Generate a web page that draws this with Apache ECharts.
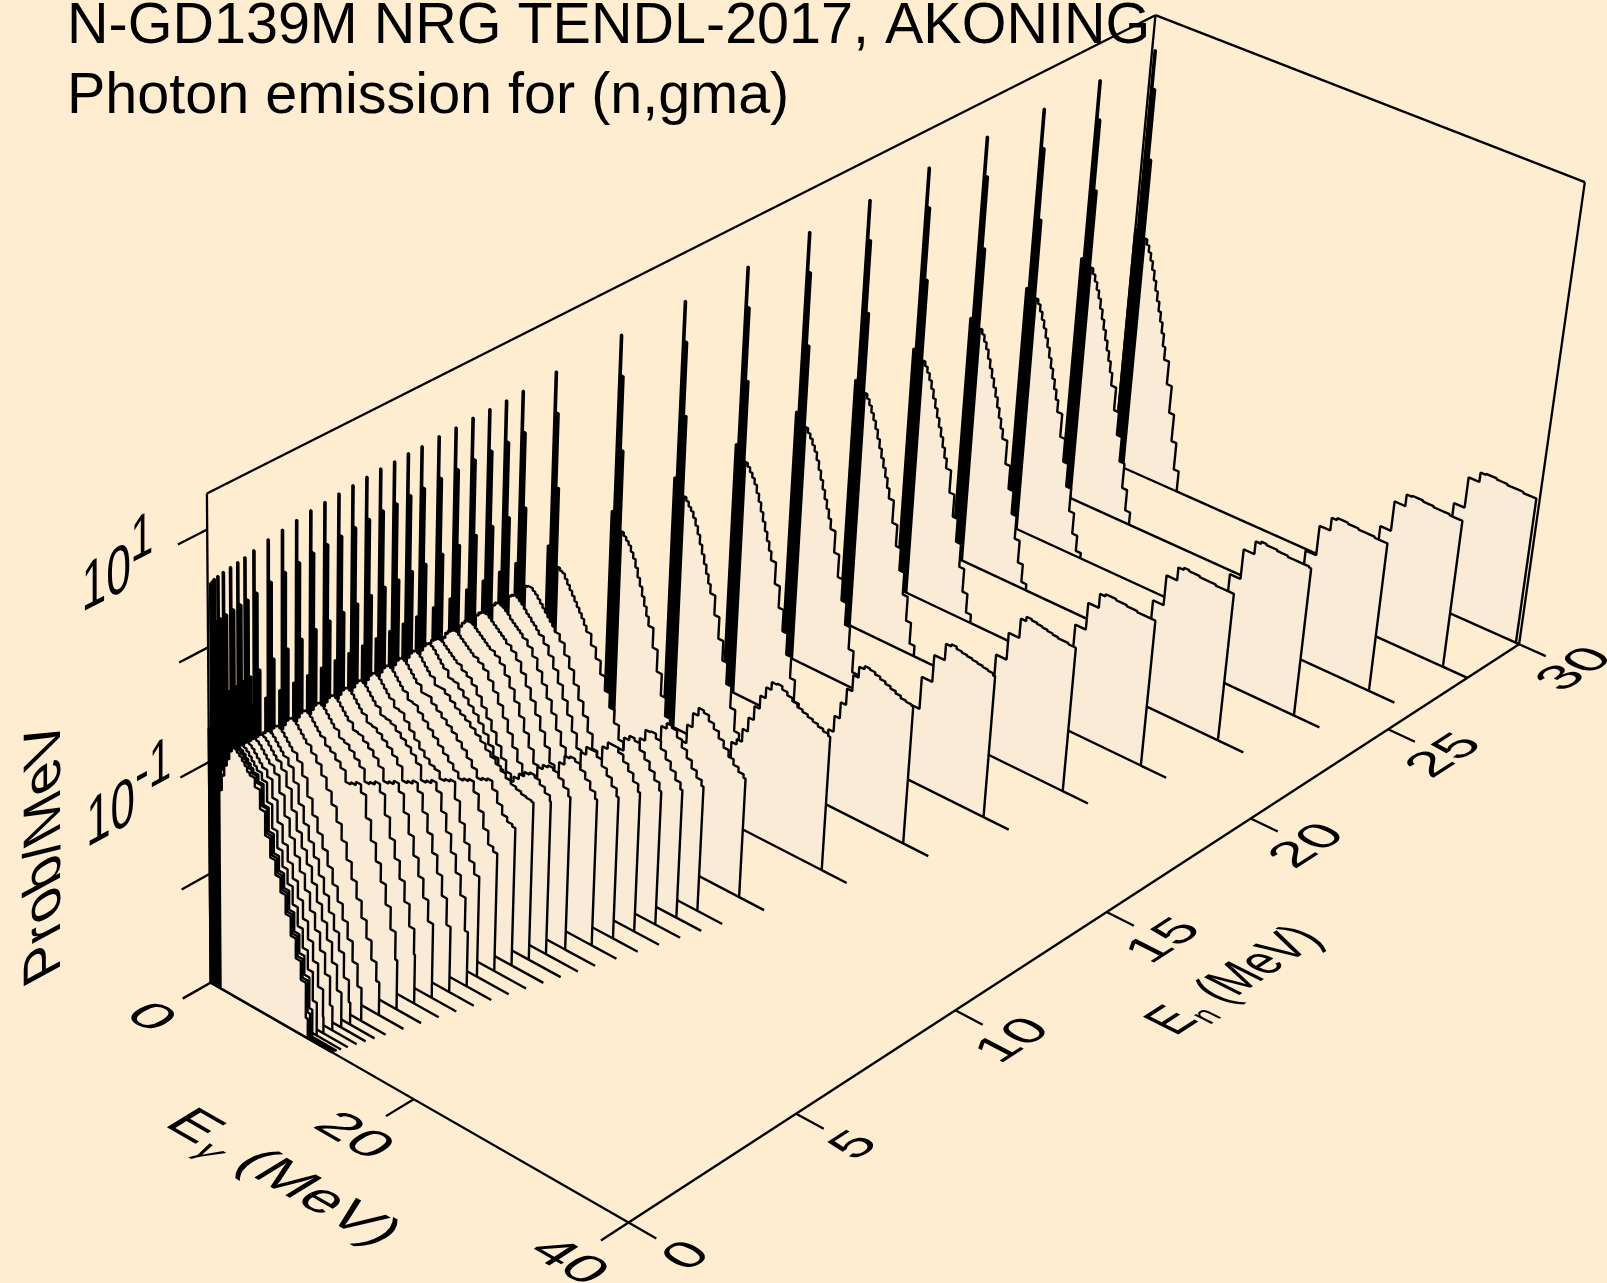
<!DOCTYPE html>
<html><head><meta charset="utf-8">
<style>html,body{margin:0;padding:0;background:#FFEDD1}#c{width:1607px;height:1283px}</style>
<script src="https://cdn.jsdelivr.net/npm/echarts@6/dist/echarts.min.js"></script>
</head><body><div id="c"></div>
<script>
// ---------- values ----------
const titleLines = ['N-GD139M NRG TENDL-2017, AKONING', 'Photon emission for (n,gma)'];
const egTicks = [0, 20, 40];
const enTicks = [0, 5, 10, 15, 20, 25, 30];
const probTicks = [0.001, 0.01, 0.1, 1, 10];
const probLabels = [{p: 10, exp: '1'}, {p: 0.1, exp: '-1'}];
const egRange = [0, 40];
const enRange = [0, 30];
const probRange = [0.001, 20];

const incidentEnergies = [0,0.05,0.1,0.2,0.35,0.55,0.75,0.95,1.2,1.6,2,2.4,2.8,3.2,3.6,4,4.4,4.8,5.2,5.6,6,6.5,7,7.5,8,8.5,9,10,12,14,16,18,20,22,24,26,28,30];
const spikeTops = [0.56,0.57,0.58,0.59,0.6,0.61,0.62,0.63,0.65,0.68,0.7,0.72,0.74,0.75,0.76,0.77,0.78,0.79,0.79,0.8,0.8,0.81,0.81,0.82,0.82,0.82,0.83,0.85,0.88,0.89,0.91,0.94,0.95,0.97,0.98,0.97,0.97,0.99];
const spikeBins = [0, 0.12, 0.24, 0.36, 0.44, 0.64, 0.76, 0.9, 1];
const shoulderLevel = -0.7;
const humpFirstBin = 2;
const humpEdges = [0.6,0.8,1,1.25,1.5,1.75,2,2.25,2.5,2.75,3,3.25,3.5,3.75,4,4.5,5,5.5,6,6.5,7,7.5,8,8.5,9,9.5,10,10.5,11,11.5,12,12.5,13,13.5,14,14.5,15];
const frontCrest = [-1.2,-1.1,-1.02,-0.96,-0.9,-0.85,-0.8,-0.77,-0.76,-0.77,-0.79,-0.82,-0.85,-0.88,-0.91,-0.97];
const humpLevels = [
 [-3,-0.8,-1.19,-1.05,-0.95,-0.88,-0.8,-0.76,-0.76,-0.78,-0.8,-0.83,-0.86,-0.9,-0.92,-1,-1.17,-1.38,-1.55,-1.68,-1.81,-1.98,-2.15,-2.33,-2.5,-2.82],
 [...frontCrest,-1.15,-1.37,-1.54,-1.67,-1.8,-1.97,-2.14,-2.32,-2.49,-2.78],
 [...frontCrest,-1.15,-1.36,-1.53,-1.66,-1.79,-1.96,-2.13,-2.3,-2.47,-2.75],
 [...frontCrest,-1.14,-1.35,-1.5,-1.64,-1.77,-1.93,-2.1,-2.27,-2.44,-2.7],
 [...frontCrest,-1.13,-1.32,-1.48,-1.62,-1.75,-1.9,-2.06,-2.22,-2.39,-2.6,-2.85],
 [...frontCrest,-1.12,-1.3,-1.46,-1.6,-1.72,-1.86,-2.02,-2.17,-2.33,-2.52,-2.78],
 [...frontCrest,-1.1,-1.28,-1.44,-1.57,-1.69,-1.83,-1.98,-2.12,-2.27,-2.45,-2.68,-2.88],
 [...frontCrest,-1.09,-1.26,-1.41,-1.54,-1.66,-1.8,-1.94,-2.08,-2.22,-2.38,-2.6,-2.8],
 [...frontCrest,-1.08,-1.24,-1.38,-1.51,-1.63,-1.76,-1.9,-2.03,-2.17,-2.32,-2.5,-2.7,-2.85],
 [...frontCrest,-1.03,-1.12,-1.22,-1.33,-1.46,-1.6,-1.75,-1.9,-2.05,-2.2,-2.36,-2.53,-2.7,-2.86],
 [...frontCrest,-1,-1.05,-1.1,-1.2,-1.18,-1.15,-1.22,-1.42,-1.6,-1.76,-1.92,-2.1,-2.3,-2.55],
 [...frontCrest,-0.99,-1.03,-1.08,-1.13,-1.24,-1.22,-1.19,-1.26,-1.44,-1.62,-1.78,-1.94,-2.12,-2.32,-2.55],
 [...frontCrest,-0.98,-1.02,-1.06,-1.11,-1.17,-1.28,-1.26,-1.23,-1.3,-1.46,-1.63,-1.8,-1.96,-2.13,-2.32,-2.6],
 [...frontCrest,-0.98,-1.01,-1.05,-1.09,-1.14,-1.2,-1.32,-1.3,-1.27,-1.34,-1.5,-1.66,-1.82,-1.98,-2.16,-2.4],
 [...frontCrest,-0.98,-1,-1.04,-1.08,-1.12,-1.17,-1.23,-1.36,-1.34,-1.31,-1.38,-1.54,-1.7,-1.86,-2.02,-2.2,-2.5],
 [...frontCrest,-0.98,-1.04,-1.1,-1.16,-1.22,-1.27,-1.31,-1.33,-1.39,-1.37,-1.35,-1.5,-1.68,-1.84,-1.98,-2.08,-2,-1.94],
 [...frontCrest,-0.98,-1.03,-1.08,-1.13,-1.18,-1.23,-1.28,-1.33,-1.38,-1.43,-1.41,-1.39,-1.48,-1.62,-1.76,-1.88,-1.92,-1.88,-1.8],
 [...frontCrest,-0.97,-1.02,-1.06,-1.1,-1.14,-1.18,-1.23,-1.28,-1.34,-1.4,-1.47,-1.45,-1.43,-1.5,-1.6,-1.68,-1.72,-1.74,-1.65],
 [...frontCrest,-0.97,-1,-1.04,-1.08,-1.11,-1.14,-1.18,-1.22,-1.26,-1.31,-1.35,-1.39,-1.43,-1.47,-1.5,-1.52,-1.54,-1.55,-1.56,-1.57],
 [...frontCrest,-0.98,-1.02,-1.07,-1.12,-1.17,-1.23,-1.3,-1.38,-1.46,-1.54],
 [-1.1,-1,-0.93,-0.88,-0.84,-0.82,-0.8,-0.8,-0.81,-0.83,-0.85,-0.87,-0.89,-0.91,-0.93,-0.97,-1,-1.05,-1.12,-1.2,-1.28,-1.37,-1.47,-1.57,-1.67,-1.76],
 [-1.08,-0.98,-0.92,-0.87,-0.84,-0.82,-0.81,-0.81,-0.83,-0.85,-0.87,-0.89,-0.91,-0.93,-0.95,-0.98,-1.02,-1.09,-1.17,-1.26,-1.36,-1.47,-1.58,-1.69,-1.8,-1.9],
 [-1.05,-0.96,-0.9,-0.86,-0.83,-0.82,-0.82,-0.83,-0.85,-0.87,-0.89,-0.91,-0.93,-0.95,-0.97,-1,-1.05,-1.13,-1.22,-1.32,-1.43,-1.55,-1.67,-1.79,-1.91,-2.02],
 [-1.02,-0.94,-0.88,-0.85,-0.83,-0.83,-0.83,-0.85,-0.87,-0.89,-0.91,-0.93,-0.95,-0.97,-1,-1.04,-1.1,-1.19,-1.29,-1.39,-1.5,-1.62,-1.74,-1.87,-2,-2.12],
 [-1,-0.92,-0.87,-0.84,-0.83,-0.84,-0.85,-0.87,-0.89,-0.92,-0.94,-0.96,-0.98,-1,-1.03,-1.08,-1.15,-1.25,-1.35,-1.46,-1.57,-1.7,-1.82,-1.95,-2.08,-2.2],
 [-0.99,-0.91,-0.87,-0.85,-0.84,-0.85,-0.87,-0.89,-0.92,-0.95,-0.97,-1,-1.02,-1.05,-1.08,-1.14,-1.22,-1.32,-1.43,-1.55,-1.67,-1.8,-1.93,-2.06,-2.18,-2.3],
 [-0.98,-0.9,-0.86,-0.85,-0.85,-0.87,-0.89,-0.92,-0.95,-0.98,-1.01,-1.04,-1.07,-1.1,-1.14,-1.2,-1.3,-1.4,-1.52,-1.64,-1.76,-1.89,-2.02,-2.15,-2.28,-2.4],
 [-0.96,-0.88,-0.85,-0.87,-0.88,-0.92,-0.96,-1,-1.04,-1.08,-1.12,-1.16,-1.2,-1.25,-1.3,-1.4,-1.5,-1.62,-1.75,-1.88,-2,-2.13,-2.25,-2.38,-2.5,-2.62],
 [-0.97,-0.9,-0.84,-0.87,-0.9,-0.93,-0.98,-1.03,-1.1,-1.18,-1.25,-1.33,-1.41,-1.49,-1.57,-1.75,-1.95,-2.15,-2.32,-2.5,-2.65,-2.8,-2.92],
 [-0.98,-0.92,-0.83,-0.86,-0.9,-0.93,-0.98,-1.04,-1.11,-1.19,-1.27,-1.35,-1.43,-1.51,-1.59,-1.77,-1.97,-2.15,-2.35,-2.55,-2.75,-2.92],
 [-0.98,-0.93,-0.82,-0.85,-0.89,-0.93,-0.98,-1.05,-1.12,-1.2,-1.28,-1.36,-1.44,-1.52,-1.6,-1.8,-2,-2.2,-2.4,-2.6,-2.8],
 [-0.95,-0.92,-0.8,-0.84,-0.88,-0.93,-0.98,-1.05,-1.13,-1.21,-1.29,-1.37,-1.45,-1.53,-1.62,-1.82,-2.03,-2.23,-2.44,-2.65,-2.85],
 [-0.93,-0.91,-0.78,-0.82,-0.87,-0.93,-0.99,-1.06,-1.14,-1.22,-1.3,-1.38,-1.46,-1.55,-1.64,-1.85,-2.05,-2.26,-2.47,-2.7,-2.9],
 [-0.91,-0.9,-0.77,-0.81,-0.86,-0.92,-0.99,-1.07,-1.15,-1.23,-1.31,-1.39,-1.48,-1.57,-1.66,-1.87,-2.08,-2.3,-2.52,-2.74,-2.92],
 [-0.9,-0.9,-0.76,-0.8,-0.86,-0.92,-1,-1.08,-1.16,-1.24,-1.32,-1.41,-1.5,-1.59,-1.68,-1.9,-2.12,-2.34,-2.56,-2.77,-2.94],
 [-0.9,-0.9,-0.76,-0.8,-0.86,-0.93,-1,-1.08,-1.16,-1.25,-1.34,-1.43,-1.52,-1.61,-1.72,-1.94,-2.16,-2.38,-2.6,-2.8,-2.95],
 [-0.88,-0.9,-0.75,-0.8,-0.86,-0.93,-1,-1.09,-1.18,-1.27,-1.36,-1.45,-1.54,-1.64,-1.76,-1.98,-2.2,-2.44,-2.68,-2.88],
 [-1,-0.92,-0.75,-0.8,-0.86,-0.93,-1.01,-1.1,-1.19,-1.28,-1.37,-1.46,-1.56,-1.68,-1.8,-2.02,-2.28,-2.54,-2.8]
];
// tail of each spectrum: Eg where it starts (0.5 MeV bins from there), null = none
const tailStarts = [null,null,null,null,null,null,null,null,null,null,null,null,null,null,null,null,null,null,null,10,10,10,10,10,10,10,10,10,12.5,15,18,20.5,22.5,24.5,26.5,28.5,30.5,32.5];
const tailLevels = [[],[],[],[],[],[],[],[],[],[],[],[],[],[],[],[],[],[],[],
 [-1.6,-1.6,-1.55,-1.5,-1.46,-1.44,-1.46,-1.5,-1.55,-1.6,-1.63],
 [-1.82,-1.8,-1.7,-1.58,-1.48,-1.44,-1.42,-1.44,-1.48,-1.54,-1.6,-1.66],
 [-2,-2.05,-1.95,-1.8,-1.65,-1.5,-1.42,-1.4,-1.42,-1.47,-1.53,-1.6,-1.66],
 [-2.12,-2.2,-2.12,-1.98,-1.8,-1.62,-1.47,-1.4,-1.4,-1.44,-1.5,-1.56,-1.63,-1.7],
 [-2.22,-2.32,-2.3,-2.15,-1.98,-1.8,-1.62,-1.48,-1.42,-1.42,-1.46,-1.52,-1.58,-1.65,-1.72],
 [-2.32,-2.42,-2.45,-2.32,-2.15,-1.95,-1.75,-1.58,-1.46,-1.42,-1.44,-1.5,-1.56,-1.63,-1.7,-1.77],
 [-2.42,-2.52,-2.58,-2.48,-2.3,-2.1,-1.88,-1.7,-1.55,-1.45,-1.44,-1.48,-1.55,-1.62,-1.69,-1.76,-1.82],
 [-2.52,-2.62,-2.7,-2.62,-2.45,-2.25,-2.03,-1.82,-1.65,-1.5,-1.45,-1.47,-1.53,-1.6,-1.67,-1.74,-1.8,-1.85],
 [-2.72,-2.8,-2.75,-2.62,-2.45,-2.25,-2.05,-1.85,-1.68,-1.55,-1.48,-1.5,-1.55,-1.6,-1.66,-1.72,-1.78,-1.83,-1.87,-1.9],
 [-2.25,-2.2,-2.08,-1.95,-1.82,-1.7,-1.6,-1.53,-1.52,-1.55,-1.58,-1.61,-1.64,-1.66,-1.68,-1.7,-1.72,-1.74,-1.76],
 [-2.6,-2.45,-2.3,-2.15,-2,-1.85,-1.7,-1.6,-1.57,-1.58,-1.6,-1.62,-1.64,-1.66,-1.68,-1.7,-1.71,-1.72],
 [-2.3,-2.3,-2,-2,-1.75,-1.75,-1.6,-1.58,-1.6,-1.61,-1.62,-1.63,-1.64,-1.65,-1.66,-1.68],
 [-2.05,-2.05,-1.8,-1.8,-1.62,-1.58,-1.59,-1.6,-1.61,-1.62,-1.63,-1.64,-1.64,-1.65,-1.65],
 [-2,-2,-1.75,-1.75,-1.62,-1.6,-1.6,-1.61,-1.61,-1.62,-1.62,-1.63,-1.63,-1.63,-1.63],
 [-2,-2,-1.72,-1.72,-1.6,-1.58,-1.59,-1.59,-1.6,-1.6,-1.6,-1.61,-1.61,-1.61,-1.61],
 [-1.98,-1.98,-1.7,-1.7,-1.58,-1.56,-1.57,-1.57,-1.58,-1.58,-1.59,-1.59,-1.59,-1.59,-1.6],
 [-1.98,-1.98,-1.7,-1.7,-1.58,-1.56,-1.56,-1.57,-1.57,-1.58,-1.58,-1.58,-1.59,-1.59,-1.59],
 [-1.97,-1.97,-1.69,-1.69,-1.58,-1.57,-1.57,-1.58,-1.58,-1.59,-1.59,-1.59,-1.6,-1.6,-1.6],
 [-1.97,-1.97,-1.68,-1.68,-1.59,-1.58,-1.58,-1.59,-1.59,-1.6,-1.6,-1.6,-1.61,-1.61,-1.61]
];
// last gamma energy of each spectrum, as an offset from En
const spectrumEndOffsets = [9.7,9.7,9.7,9.7,9.7,9.7,9.7,9.7,9.7,9.7,9.7,9.7,9.7,9.7,9.7,9,9,9,9,9,9.2,9.7,9.7,9.7,9.7,9.7,9.7,9.7,9.7,9.7,9.7,9.7,9.7,9.7,9.7,9.7,9.7,9.7];
const floorEndOffset = 12.1;     // floor line runs on to En + this
const floorLevel = -3;
const tailBin = 0.5;

// ---------- view: the box corners as seen in the picture ----------
// [Eg fraction, log-P fraction, En fraction, screen x, screen y]
const viewAnchors = [
 [0,0,0,210,981],[1,0,0,627,1222],[1,0,1,1515,643],[0,1,0,209,495],[0,1,1,1154,14],[0,1,1,1154,14],[0,1,1,1154,14],[1,1,1,1587,184],
 [0,0,1,1117,466],[1,0,0.5,1112,912],[0.5,0,0,410,1099],[0,0.465,0,210,763]
];
const BG='#FFEDD1', FILL='#FAEBD7', INK='#000000', FONT='"Liberation Sans", Arial, sans-serif';

function solveView(anchors){
  const A=[],b=[];
  anchors.forEach(([u,v,w,x,y])=>{
    A.push([u,v,w,1,0,0,0,0,-x*u,-x*v,-x*w]);b.push(x);
    A.push([0,0,0,0,u,v,w,1,-y*u,-y*v,-y*w]);b.push(y);
  });
  const n=11,N=[];
  for(let i=0;i<n;i++){N.push(new Array(n+1).fill(0));
    for(let j=0;j<n;j++)for(let k=0;k<A.length;k++)N[i][j]+=A[k][i]*A[k][j];
    for(let k=0;k<A.length;k++)N[i][n]+=A[k][i]*b[k];}
  for(let i=0;i<n;i++){let p=i;for(let r=i+1;r<n;r++)if(Math.abs(N[r][i])>Math.abs(N[p][i]))p=r;
    [N[i],N[p]]=[N[p],N[i]];
    for(let r=0;r<n;r++)if(r!==i){const f=N[r][i]/N[i][i];for(let c=i;c<=n;c++)N[r][c]-=f*N[i][c];}}
  return N.map((r,i)=>r[n]/r[i]);
}
const H=solveView(viewAnchors);
function viewPoint(u,v,w){const d=H[8]*u+H[9]*v+H[10]*w+1;
  return [(H[0]*u+H[1]*v+H[2]*w+H[3])/d,(H[4]*u+H[5]*v+H[6]*w+H[7])/d];}

function makeProjector(params,api){
  const cs=params.coordSys;
  return function(eg,prob,en){
    const c=api.coord([eg,prob]);
    return viewPoint((c[0]-cs.x)/cs.width,(cs.y+cs.height-c[1])/cs.height,(en-enRange[0])/(enRange[1]-enRange[0]));
  };
}
function buildSpectrum(i){
  const en=incidentEnergies[i], end=Math.min(en+spectrumEndOffsets[i],egRange[1]), stop=Math.min(en+floorEndOffset,egRange[1]);
  const top=spikeTops[i];
  const steps=[];
  [shoulderLevel,floorLevel,top,floorLevel,top-0.35,floorLevel,top-1,floorLevel]
    .forEach((l,k)=>steps.push([spikeBins[k],spikeBins[k+1],l]));
  humpLevels[i].forEach((l,k)=>{ if(k>=humpFirstBin) steps.push([humpEdges[k],humpEdges[k+1],l]); });
  let last=humpEdges[humpLevels[i].length];
  if(tailStarts[i]!==null){
    if(tailStarts[i]>last)steps.push([last,tailStarts[i],floorLevel]);
    tailLevels[i].forEach((l,k)=>steps.push([tailStarts[i]+k*tailBin,tailStarts[i]+(k+1)*tailBin,l]));
  }
  const out=[[0,floorLevel]];
  steps.forEach(([a,b,l])=>{ if(a>=end)return; out.push([a,l],[Math.min(b,end),l]); });
  out.push([out[out.length-1][0],floorLevel],[stop,floorLevel]);
  return out;
}
function renderSlice(params,api){
  const p=makeProjector(params,api), i=api.value(2), en=incidentEnergies[i];
  const pts=buildSpectrum(i).map(([e,l])=>p(e,Math.pow(10,l),en));
  return {type:'polygon',shape:{points:pts},silent:true,
    style:{fill:FILL,stroke:INK,lineWidth:2.4,lineJoin:'bevel'}};
}
function line(a,b,w){return {type:'line',silent:true,shape:{x1:a[0],y1:a[1],x2:b[0],y2:b[1]},style:{stroke:INK,lineWidth:w||2.3,lineCap:'butt'}};}

// text in a plane: B = screen vector of one local px along the baseline, U = one local px up
function planeText(origin,B,U,pieces){
  const a=B[0],b=-U[0],c=B[1],d=-U[1];
  const E=(a+d)/2,F=(a-d)/2,G=(c+b)/2,Hh=(c-b)/2;
  const Q=Math.hypot(E,Hh),R=Math.hypot(F,G),s1=Q+R,s2=Q-R;
  const a1=Math.atan2(G,F),a2=Math.atan2(Hh,E),th=(a2-a1)/2,ph=(a2+a1)/2;
  return {type:'group',x:origin[0],y:origin[1],rotation:-ph,children:[
    {type:'group',scaleX:s1,scaleY:s2,children:[
      {type:'group',rotation:-th,children:pieces.map(t=>({type:'text',silent:true,x:t.x||0,y:t.y||0,
        style:{text:t.text,fill:INK,font:(t.italic?'italic ':'')+t.size+'px '+FONT,align:t.align||'center',verticalAlign:'middle'}}))}
    ]}
  ]};
}
function unit(a,b,s){const dx=b[0]-a[0],dy=b[1]-a[1],L=Math.hypot(dx,dy);return [dx/L*s,dy/L*s];}

function renderFrameBack(params,api){
  const p=makeProjector(params,api),[e0,e1]=egRange,[n0,n1]=enRange,[y0,y1]=probRange;
  return {type:'group',children:[
    line(p(e0,y0,n0),p(e0,y1,n0)),line(p(e0,y1,n0),p(e0,y1,n1)),line(p(e0,y1,n1),p(e1,y1,n1)),
    line(p(e1,y1,n1),p(e1,y0,n1)),line(p(e0,y1,n1),p(e0,y0,n1)),
    line(p(e0,y0,n0),p(e1,y0,n0)),line(p(e1,y0,n0),p(e1,y0,n1))
  ]};
}
function renderAxes(params,api){
  const p=makeProjector(params,api),[e0,e1]=egRange,[n0,n1]=enRange,y0=probRange[0];
  const kids=[];
  const egTickEn=-0.8, enTickEg=42.5, probTickEn=-0.8;
  egTicks.forEach(t=>kids.push(line(p(t,y0,n0),p(t,y0,egTickEn))));
  enTicks.forEach(t=>kids.push(line(p(e1,y0,t),p(enTickEg,y0,t))));
  probTicks.forEach(t=>kids.push(line(p(e0,t,n0),p(e0,t,probTickEn))));
  const floorB=(e,n,s)=>unit(p(e,y0,n),p(e+1,y0,n),s), floorN=(e,n,s)=>unit(p(e,y0,n),p(e,y0,n+1),s);
  egTicks.forEach(t=>{const o=p(t,y0,-1.75);
    kids.push(planeText(o,floorB(t,0,1.3),floorN(t,0,1.05),[{text:String(t),size:48}]));});
  enTicks.forEach(t=>{const o=p(45.3,y0,t);
    kids.push(planeText(o,floorN(40,t,1.2),floorB(40,t,-1.05),[{text:String(t),size:48}]));});
  // axis titles
  let o=p(21.2,y0,-3.7);
  kids.push(planeText(o,floorB(21,0,1.22),floorN(21,0,1.1),[
    {text:'E',size:50,x:-114,align:'left'},{text:'γ',size:32,x:-78,y:14,italic:true,align:'left'},{text:'(MeV)',size:50,x:-48,align:'left'}]));
  o=p(52,y0,15);
  kids.push(planeText(o,floorN(40,15,0.88),floorB(40,15,-1.15),[
    {text:'E',size:50,x:-106,align:'left'},{text:'n',size:32,x:-72,y:14,align:'left'},{text:'(MeV)',size:50,x:-40,align:'left'}]));
  probLabels.forEach(l=>{const q=p(e0,l.p,-2.2);
    const B=unit(p(e0,l.p,0),p(e0,l.p,1),1), Uv=[0,-1.35];
    kids.push(planeText(q,[B[0]*1.0,B[1]*1.0],Uv,[{text:'10',size:50,x:-22},{text:l.exp,size:46,x:l.exp.length>1?6:5,y:-17,align:'left'}]));});
  const q=p(e0,0.1,-4.5);
  const Bw=unit(p(e0,0.1,0),p(e0,0.1,1),1);
  kids.push(planeText(q,[0,-1.2],[-Bw[0]*1.25,-Bw[1]*1.25],[{text:'Prob/MeV',size:48}]));
  return {type:'group',children:kids};
}

const chart=echarts.init(document.getElementById('c'),null,{renderer:'canvas'});
const sliceData=incidentEnergies.map((e,i)=>[egRange[0],1,i]).reverse();
chart.setOption({
  animation:false,backgroundColor:BG,
  grid:{left:0,right:0,top:0,bottom:0},
  xAxis:{type:'value',min:egRange[0],max:egRange[1],show:false},
  yAxis:{type:'log',min:probRange[0],max:probRange[1],show:false},
  graphic:titleLines.map((t,i)=>({type:'text',left:67,top:-2+i*70,silent:true,style:{text:t,fill:INK,font:'57.5px '+FONT}})),
  series:[
    {type:'custom',clip:false,silent:true,z:1,data:[[0,1,0]],renderItem:renderFrameBack,dimensions:['eg','p','i']},
    {type:'custom',clip:false,silent:true,z:2,data:sliceData,renderItem:renderSlice,dimensions:['eg','p','i']},
    {type:'custom',clip:false,silent:true,z:3,data:[[0,1,0]],renderItem:renderAxes,dimensions:['eg','p','i']}
  ]
});
</script></body></html>
